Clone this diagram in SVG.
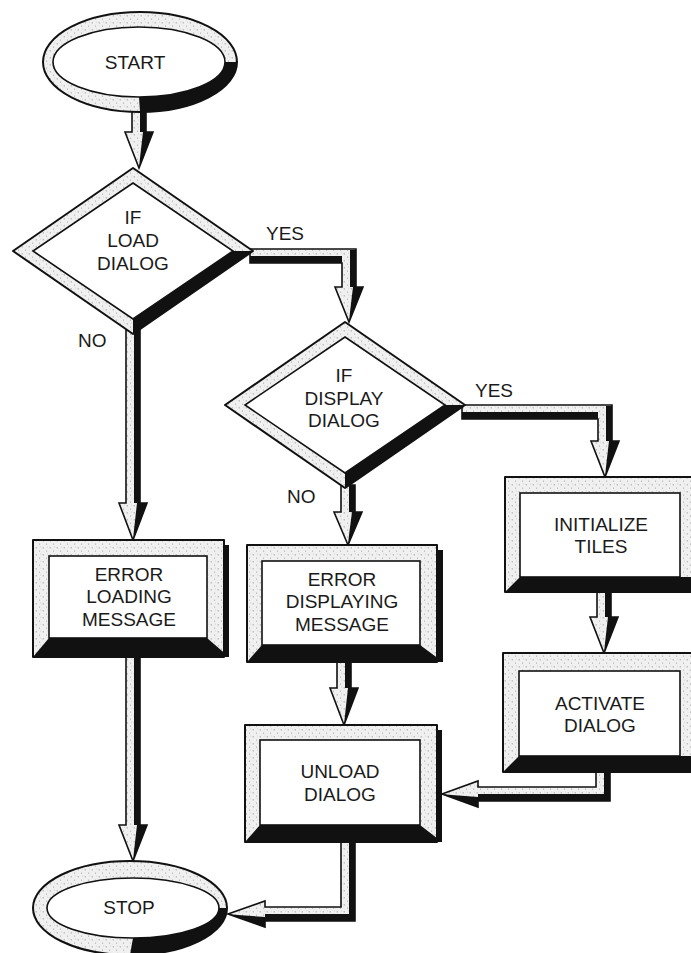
<svg xmlns="http://www.w3.org/2000/svg" width="691" height="953" viewBox="0 0 691 953">
<defs>
<pattern id="st" width="7" height="7" patternUnits="userSpaceOnUse">
<rect width="7" height="7" fill="#f0f0f0"/>
<circle cx="1.2" cy="1.8" r="0.6" fill="#8a8a8a"/>
<circle cx="4.6" cy="5.1" r="0.55" fill="#9a9a9a"/>
<circle cx="5.5" cy="1" r="0.4" fill="#b0b0b0"/>
</pattern>
<style>
.band{fill:url(#st);stroke:#111;stroke-width:2;stroke-linejoin:round}
.face{fill:#fff;stroke:#111;stroke-width:1.6}
.blk{fill:#111;stroke:none}
.arr{fill:url(#st);stroke:#111;stroke-width:1.6;stroke-linejoin:miter}
text{font-family:"Liberation Sans",Arial,Helvetica,sans-serif;font-size:19px;fill:#1a1a1a;text-anchor:middle}
.lbl{text-anchor:start}
</style>
</defs>
<rect width="691" height="953" fill="#fff"/>

<g id="connectors">
<g id="c-start-d1"><path class="arr" d="M132,108 H146 V132 H153 L139,168 L125,132 H132 Z"/><path class="blk" d="M140,108 H146 V132 H140 Z M143,132 H153 L139,168 L140,158 Z"/></g>
<g id="c-d1-errload"><path class="arr" d="M126,330 H140 V503 H147 L133,540 L119,503 H126 Z"/><path class="blk" d="M134,330 H140 V503 H134 Z M137,503 H147 L133,540 L134,530 Z"/></g>
<g id="c-errload-stop"><path class="arr" d="M126,655 H140 V825 H147 L133,861 L119,825 H126 Z"/><path class="blk" d="M134,655 H140 V825 H134 Z M137,825 H147 L133,861 L134,851 Z"/></g>
<g id="c-d1-d2"><path class="arr" d="M250,249 H356 V287 H363 L349,322 L335,287 H342 V263 H250 Z"/><path class="blk" d="M250,256 H342 V263 H250 Z M350,250 H356 V287 H350 Z M353,287 H363 L349,322 L350,312 Z"/></g>
<g id="c-d2-errdisp"><path class="arr" d="M341,485 H355 V512 H362 L348,545 L334,512 H341 Z"/><path class="blk" d="M349,485 H355 V512 H349 Z M352,512 H362 L348,545 L349,535 Z"/></g>
<g id="c-d2-init"><path class="arr" d="M462,405 H612 V441 H619 L605,477 L591,441 H598 V419 H462 Z"/><path class="blk" d="M462,412 H598 V419 H462 Z M606,406 H612 V441 H606 Z M609,441 H619 L605,477 L606,467 Z"/></g>
<g id="c-init-act"><path class="arr" d="M597,590 H611 V617 H618 L604,653 L590,617 H597 Z"/><path class="blk" d="M605,590 H611 V617 H605 Z M608,617 H618 L604,653 L605,643 Z"/></g>
<g id="c-errdisp-unload"><path class="arr" d="M337,660 H351 V688 H358 L344,725 L330,688 H337 Z"/><path class="blk" d="M345,660 H351 V688 H345 Z M348,688 H358 L344,725 L345,715 Z"/></g>
<g id="c-act-unload"><path class="arr" d="M596,770 H610 V801 H478 V807 L442,794 L478,781 V787 H596 Z"/><path class="blk" d="M604,770 H610 V801 H604 Z M478,794 H610 V801 H478 Z M478,797 V807 L442,794 L452,795 Z"/></g>
<g id="c-unload-stop"><path class="arr" d="M341,840 H355 V921 H265 V927 L228,914 L265,901 V907 H341 Z"/><path class="blk" d="M349,840 H355 V921 H349 Z M265,914 H355 V921 H265 Z M265,917 V927 L228,914 L238,915 Z"/></g>
</g>

<g id="start">
<ellipse class="band" cx="140" cy="62" rx="97" ry="50"/>
<path class="blk" d="M237,62 A97,50 0 0 1 140,112 L139,97 A86,35 0 0 0 225,62 Z"/>
<ellipse class="face" cx="139" cy="62" rx="86" ry="35"/>
<text x="135" y="69">START</text>
</g>

<g id="d1">
<polygon class="band" points="133,168 253,251 133,334 13,251"/>
<polygon class="blk" points="233,251 253,251 133,334 133,319"/>
<polygon class="face" points="133,183 233,251 133,319 33,251"/>
<text x="133" y="224">IF</text>
<text x="133" y="247">LOAD</text>
<text x="133" y="270">DIALOG</text>
</g>

<g id="d2">
<polygon class="band" points="345,322 465,405 345,488 225,405"/>
<polygon class="blk" points="445,405 465,405 345,488 345,473"/>
<polygon class="face" points="345,337 445,405 345,473 245,405"/>
<text x="344" y="382">IF</text>
<text x="344" y="405">DISPLAY</text>
<text x="344" y="427">DIALOG</text>
</g>

<g id="errload">
<rect class="blk" x="222" y="545" width="7" height="112"/>
<rect class="band" x="33" y="540" width="191" height="117"/>
<polygon class="blk" points="33,657 229,657 207,638 49,638"/>
<rect class="face" x="49" y="556" width="158" height="82"/>
<text x="129" y="581">ERROR</text>
<text x="129" y="603">LOADING</text>
<text x="129" y="626">MESSAGE</text>
</g>

<g id="errdisp">
<rect class="blk" x="435" y="550" width="8" height="112"/>
<rect class="band" x="247" y="545" width="190" height="117"/>
<polygon class="blk" points="247,662 443,662 420,645 262,645"/>
<rect class="face" x="262" y="561" width="158" height="84"/>
<text x="342" y="586">ERROR</text>
<text x="342" y="608">DISPLAYING</text>
<text x="342" y="631">MESSAGE</text>
</g>

<g id="unload">
<rect class="blk" x="435" y="730" width="7" height="112"/>
<rect class="band" x="245" y="725" width="192" height="117"/>
<polygon class="blk" points="245,842 442,842 420,825 260,825"/>
<rect class="face" x="260" y="740" width="160" height="85"/>
<text x="340" y="778">UNLOAD</text>
<text x="340" y="801">DIALOG</text>
</g>

<g id="init">
<rect class="band" x="505" y="477" width="195" height="115"/>
<polygon class="blk" points="505,592 700,592 700,577 520,577"/>
<rect class="face" x="520" y="493" width="160" height="84"/>
<text x="601" y="531">INITIALIZE</text>
<text x="601" y="553">TILES</text>
</g>

<g id="activate">
<rect class="band" x="503" y="653" width="197" height="119"/>
<polygon class="blk" points="503,772 700,772 700,756 519,756"/>
<rect class="face" x="519" y="671" width="161" height="85"/>
<text x="600" y="710">ACTIVATE</text>
<text x="600" y="732">DIALOG</text>
</g>

<g id="stop">
<ellipse class="band" cx="130" cy="908" rx="97" ry="47"/>
<path class="blk" d="M227,908 A97,47 0 0 1 130,955 L133,938 A86,30 0 0 0 219,908 Z"/>
<ellipse class="face" cx="133" cy="908" rx="86" ry="30"/>
<text x="129" y="914">STOP</text>
</g>

<g id="labels">
<text class="lbl" x="266" y="240">YES</text>
<text class="lbl" x="78" y="347">NO</text>
<text class="lbl" x="475" y="397">YES</text>
<text class="lbl" x="287" y="503">NO</text>
</g>
</svg>
